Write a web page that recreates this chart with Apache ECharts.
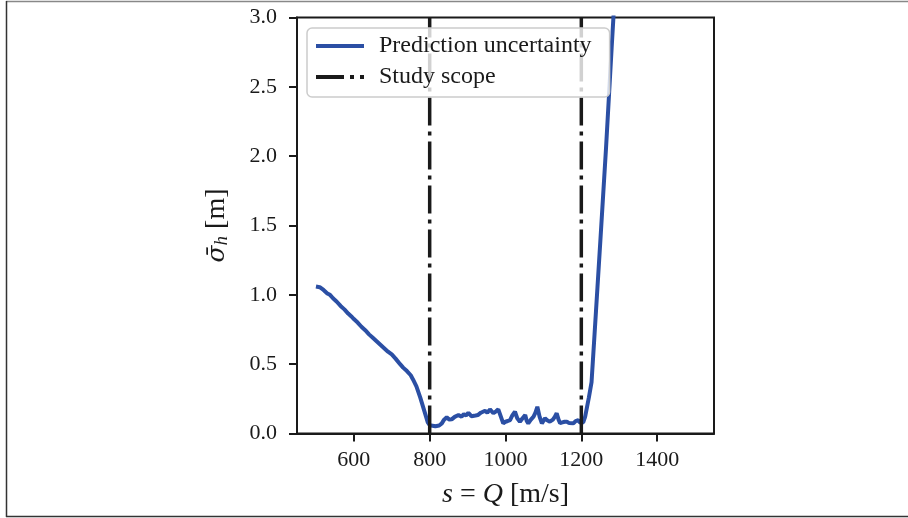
<!doctype html>
<html lang="en">
<head>
    <meta charset="UTF-8">
    <title>Prediction uncertainty</title>
    <script src="https://cdn.jsdelivr.net/npm/echarts@6/dist/echarts.min.js"></script>
    <style>
        html, body { margin: 0; padding: 0; background: #fff; }
        #chart { width: 908px; height: 518px; }
    </style>
</head>
<body>
<div id="chart"></div>
<script>
    // discharge s = Q [m/s] and mean prediction std [m]
    const uncertaintyQ = [
        500, 510, 520, 530, 537, 545, 555, 565, 575, 585, 595, 600, 610, 620, 630, 640, 650, 660, 670, 680,
        690, 700, 710, 722, 730, 740, 750, 756, 765, 775, 785, 795, 800,
        805, 815, 825, 832, 838, 845, 852, 858, 866, 876, 884, 890, 896, 902, 910, 915, 921, 927, 935,
        946, 952, 959, 964, 968, 975, 981, 988, 994, 1000, 1006, 1012, 1018, 1025, 1031, 1038, 1045, 1052,
        1056, 1060, 1067, 1074, 1079, 1084, 1090, 1096, 1100, 1104, 1110, 1117, 1125, 1130, 1135, 1140,
        1144, 1150, 1156, 1162, 1168, 1173, 1179, 1185, 1192, 1196, 1200,
        1205, 1210, 1220, 1227, 1235, 1250, 1265, 1280, 1290, 1310
    ];
    const uncertaintySigma = [
        1.06, 1.055, 1.035, 1.01, 1.0, 0.975, 0.95, 0.92, 0.895, 0.865, 0.84, 0.825, 0.80, 0.77, 0.745, 0.715, 0.69, 0.665, 0.64, 0.615,
        0.59, 0.57, 0.54, 0.50, 0.475, 0.45, 0.42, 0.39, 0.34, 0.26, 0.17, 0.08, 0.06,
        0.055, 0.052, 0.058, 0.073, 0.10, 0.117, 0.10, 0.102, 0.12, 0.133, 0.121, 0.14, 0.13, 0.15, 0.125, 0.121, 0.13, 0.133, 0.15,
        0.164, 0.15, 0.174, 0.16, 0.146, 0.16, 0.174, 0.12, 0.073, 0.085, 0.09, 0.097, 0.13, 0.157, 0.11, 0.085, 0.11, 0.133,
        0.09, 0.073, 0.10, 0.121, 0.15, 0.193, 0.12, 0.073, 0.09, 0.11, 0.095, 0.085, 0.10, 0.12, 0.146, 0.10,
        0.075, 0.08, 0.085, 0.085, 0.075, 0.08, 0.073, 0.09, 0.097, 0.08, 0.073,
        0.08, 0.12, 0.26, 0.37, 0.72, 1.38, 2.05, 2.78, 3.25, 4.2
    ];
    const scopeQ = [800, 1200];
    const xTicks = [600, 800, 1000, 1200, 1400];

    const serif = '"Liberation Serif", "DejaVu Serif", serif';
    const blue = '#2b4fa4';
    const ink = '#1a1a1a';

    const blueData = uncertaintyQ.map((q, i) => [q, uncertaintySigma[i]]);
    const scopeSeries = scopeQ.map(q => ({
        name: 'Study scope',
        type: 'line',
        data: [[q, 0], [q, 3]],
        symbol: 'none',
        color: ink,
        lineStyle: { color: ink, width: 3.5, type: [28, 6, 4, 6] },
        z: 3
    }));

    const chart = echarts.init(document.getElementById('chart'));
    chart.setOption({
        animation: false,
        textStyle: { fontFamily: serif },
        graphic: [
            { type: 'line', shape: { x1: 6, y1: 1.5, x2: 908, y2: 1.5 }, style: { stroke: '#888', lineWidth: 1.5 } },
            { type: 'line', shape: { x1: 6.5, y1: 1, x2: 6.5, y2: 517 }, style: { stroke: '#333', lineWidth: 1.5 } },
            { type: 'line', shape: { x1: 6, y1: 516.5, x2: 908, y2: 516.5 }, style: { stroke: '#333', lineWidth: 1.5 } }
        ],
        grid: {
            left: 297, top: 17.5, right: 194, bottom: 84.5,
            show: true, borderColor: ink, borderWidth: 2, backgroundColor: 'transparent'
        },
        legend: {
            left: 307, top: 28,
            orient: 'vertical',
            data: ['Prediction uncertainty', 'Study scope'],
            itemWidth: 48, itemHeight: 14, itemGap: 7,
            padding: [6, 18, 8, 7],
            backgroundColor: 'rgba(255,255,255,0.8)',
            borderColor: '#cccccc', borderWidth: 1.5, borderRadius: 5,
            itemStyle: { opacity: 0, borderWidth: 0 },
            lineStyle: { width: 4 },
            textStyle: { fontFamily: serif, fontSize: 24, color: ink, padding: [0, 0, 0, 10] }
        },
        xAxis: {
            type: 'value', min: 450, max: 1550,
            name: '{i|s} = {i|Q} [m/s]',
            nameLocation: 'middle', nameGap: 47,
            nameTextStyle: {
                fontFamily: serif, fontSize: 28, color: ink,
                rich: { i: { fontFamily: serif, fontSize: 28, fontStyle: 'italic', color: ink } }
            },
            splitLine: { show: false },
            axisLine: { show: true, lineStyle: { color: ink, width: 2 } },
            axisTick: { show: true, length: 8, customValues: xTicks, lineStyle: { color: ink, width: 2 } },
            axisLabel: { customValues: xTicks, margin: 16, fontFamily: serif, fontSize: 22, color: ink, formatter: v => String(v) }
        },
        yAxis: {
            type: 'value', min: 0, max: 3, interval: 0.5,
            name: '{s|σ\u0304}{h|h} [m]',
            nameLocation: 'middle', nameRotate: 90, nameGap: 66,
            nameTextStyle: {
                fontFamily: serif, fontSize: 28, color: ink,
                rich: {
                    s: { fontFamily: '"DejaVu Serif", serif', fontSize: 25, fontStyle: 'italic', color: ink },
                    h: { fontFamily: serif, fontSize: 19, fontStyle: 'italic', color: ink, verticalAlign: 'bottom', padding: [8, 0, 0, 0] }
                }
            },
            splitLine: { show: false },
            axisLine: { show: true, lineStyle: { color: ink, width: 2 } },
            axisTick: { show: true, length: 8, lineStyle: { color: ink, width: 2 } },
            axisLabel: { margin: 20, fontFamily: serif, fontSize: 22, color: ink, formatter: v => v.toFixed(1) }
        },
        series: [
            {
                name: 'Prediction uncertainty',
                type: 'line',
                data: blueData,
                symbol: 'none',
                color: blue,
                lineStyle: { color: blue, width: 4 },
                clip: true,
                z: 2
            },
            ...scopeSeries
        ]
    });
</script>
</body>
</html>
